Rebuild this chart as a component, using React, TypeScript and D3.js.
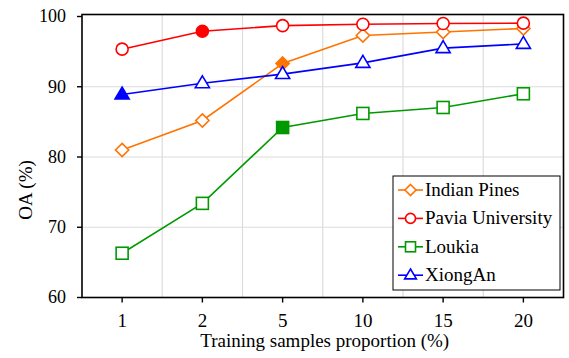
import React from "react";
import * as d3 from "d3";

const categories = ["1", "2", "5", "10", "15", "20"];
const yTicks = [60, 70, 80, 90, 100];
const indianPines = [81.0, 85.2, 93.3, 97.3, 97.8, 98.3];
const paviaUniversity = [95.35, 97.9, 98.7, 98.9, 99.0, 99.05];
const loukia = [66.3, 73.4, 84.2, 86.2, 87.05, 89.0];
const xiongAn = [88.9, 90.5, 91.8, 93.4, 95.5, 96.1];

const seriesList = [
  { name: "Indian Pines", values: indianPines, color: "#ff7300", marker: "diamond", filled: 2 },
  { name: "Pavia University", values: paviaUniversity, color: "#ff0000", marker: "circle", filled: 1 },
  { name: "Loukia", values: loukia, color: "#009a00", marker: "square", filled: 2 },
  { name: "XiongAn", values: xiongAn, color: "#0000ff", marker: "triangle", filled: 0 },
];

const W = 569, H = 358;
const left = 82, right = 563.5, top = 14.5, bottom = 297.5;
const fontStyle = { fontFamily: "Liberation Serif, DejaVu Serif, serif" };

function Marker({ type, x, y, color, fill, size }: any) {
  const s = size;
  const common = { stroke: color, strokeWidth: 1.6, fill: fill ? color : "white" };
  if (type === "circle") return <circle cx={x} cy={y} r={s * 0.5} {...common} />;
  if (type === "square") return <rect x={x - s * 0.5} y={y - s * 0.5} width={s} height={s} {...common} />;
  if (type === "diamond") {
    const r = s * 0.55;
    return <path d={`M${x},${y - r}L${x + r},${y}L${x},${y + r}L${x - r},${y}Z`} {...common} />;
  }
  const r = s * 0.62;
  return <path d={`M${x},${y - r}L${x + r * 0.95},${y + r * 0.6}L${x - r * 0.95},${y + r * 0.6}Z`} {...common} />;
}

export default function App() {
  const x = d3.scaleBand().domain(categories).range([left, right]);
  const y = d3.scaleLinear().domain([60, 100]).range([bottom, 16.5]);
  const cx = (c: string) => (x(c) as number) + x.bandwidth() / 2;
  const line = d3.line<number>().x((_, i) => cx(categories[i])).y((d) => y(d));
  const legX = 393, legY = 176, legW = 167, legH = 114;

  return (
    <svg width={W} height={H} style={{ position: "absolute", left: 0, top: 0, background: "white", ...fontStyle }}>
      {categories.slice(1).map((c) => (
        <line key={"vg" + c} x1={x(c)} x2={x(c)} y1={top} y2={bottom} stroke="#dcdcdc" strokeWidth={1.2} />
      ))}
      {yTicks.slice(1, -1).map((t) => (
        <line key={"hg" + t} x1={left} x2={right} y1={y(t)} y2={y(t)} stroke="#dcdcdc" strokeWidth={1.2} />
      ))}
      {seriesList.map((s) => (
        <g key={s.name}>
          <path d={line(s.values) as string} fill="none" stroke={s.color} strokeWidth={1.6} />
          {s.values.map((v, i) => (
            <Marker key={i} type={s.marker} x={cx(categories[i])} y={y(v)} color={s.color} fill={i === s.filled} size={12} />
          ))}
        </g>
      ))}
      <rect x={left} y={top} width={right - left} height={bottom - top} fill="none" stroke="black" strokeWidth={1.6} />
      {yTicks.map((t) => (
        <g key={"yt" + t}>
          <line x1={left - 5} x2={left} y1={y(t)} y2={y(t)} stroke="black" strokeWidth={1.4} />
          <text x={left - 16} y={y(t)} dy="0.33em" textAnchor="end" fontSize={18} style={fontStyle}>{t}</text>
        </g>
      ))}
      {categories.map((c) => (
        <g key={"xt" + c}>
          <line x1={cx(c)} x2={cx(c)} y1={bottom} y2={bottom + 5} stroke="black" strokeWidth={1.4} />
          <text x={cx(c)} y={327} textAnchor="middle" fontSize={19} style={fontStyle}>{c}</text>
        </g>
      ))}
      <text x={(left + right) / 2 + 2} y={347} textAnchor="middle" fontSize={19} style={fontStyle}>Training samples proportion (%)</text>
      <text transform={`translate(32,190) rotate(-90)`} textAnchor="middle" fontSize={19} style={fontStyle}>OA (%)</text>
      <rect x={legX} y={legY} width={legW} height={legH} fill="white" stroke="black" strokeWidth={1} />
      {seriesList.map((s, i) => {
        const ly = 190 + i * 28.4;
        return (
          <g key={"lg" + s.name}>
            <line x1={398} x2={423} y1={ly} y2={ly} stroke={s.color} strokeWidth={1.6} />
            <Marker type={s.marker} x={410.5} y={ly} color={s.color} fill={false} size={10} />
            <text x={425} y={ly} dy="0.3em" fontSize={19} style={fontStyle}>{s.name}</text>
          </g>
        );
      })}
    </svg>
  );
}
